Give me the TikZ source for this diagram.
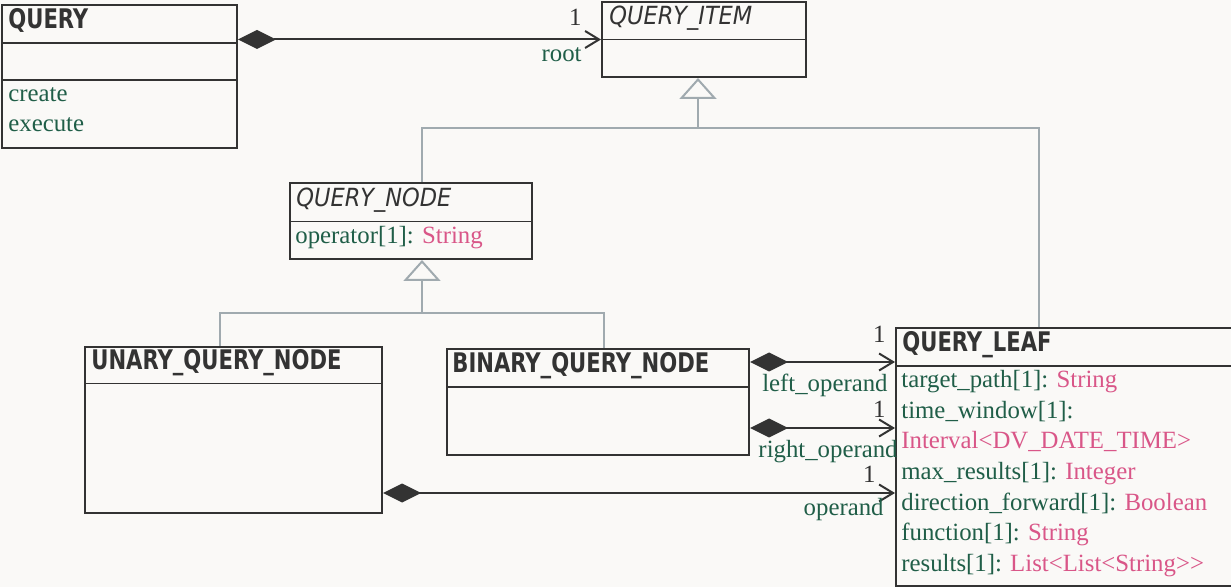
\documentclass[tikz,border=0pt]{standalone}
\usepackage{fontspec}
\setmainfont{Liberation Serif}
\newfontfamily\headfont[FakeStretch=0.87]{DejaVu Sans Condensed Bold}
\newfontfamily\abstractfont{DejaVu Sans Condensed Oblique}
\usetikzlibrary{arrows.meta}
\definecolor{umlink}{HTML}{333333}
\definecolor{umlgreen}{HTML}{205E48}
\definecolor{umlpink}{HTML}{D95688}
\definecolor{umlgray}{HTML}{A0AAAF}
\definecolor{paper}{HTML}{FAF9F7}
\newcommand{\ty}[1]{\textcolor{umlpink}{#1}}
\tikzset{
  classbox/.style={draw=umlink, line width=1pt, anchor=north west, inner sep=0pt},
  classname/.style={anchor=base west, inner sep=0pt, text=umlink, font=\headfont\fontsize{13.5}{16}\selectfont},
  abstractname/.style={anchor=base west, inner sep=0pt, text=umlink, font=\abstractfont\fontsize{12.5}{15}\selectfont},
  feature/.style={anchor=base west, inner sep=0pt, text=umlgreen, font=\fontsize{12.4}{15}\selectfont},
  role/.style={anchor=base east, inner sep=0pt, text=umlgreen, font=\fontsize{12.4}{15}\selectfont},
  mult/.style={anchor=base east, inner sep=0pt, text=umlink, font=\fontsize{12.4}{15}\selectfont},
  divider/.style={draw=umlink, line width=1pt},
  thindivider/.style={draw=umlink, line width=0.5pt},
  comp/.style={draw=umlink, line width=1pt, {Diamond[length=19pt,width=9.5pt]}-{Straight Barb[length=7pt,width=8.5pt]}},
  tree/.style={draw=umlgray, line width=1pt},
  inherit/.style={tree, -{Triangle[open,length=10.5pt,width=18.5pt]}}
}
\begin{document}
\begin{tikzpicture}[x=0.5pt, y=0.5pt]
  \fill[paper] (0,0) rectangle (1231,-587);
  \useasboundingbox (0,0) rectangle (1231,-587);

  % classes
  \node[classbox, minimum width=117.5pt, minimum height=71.5pt] (query) at (1,-4) {};
  \node[classname] (query-name) at (8,-29) {QUERY};
  \draw[divider] (query.west |- 0,-43) -- (query.east |- 0,-43);
  \draw[divider] (query.west |- 0,-80) -- (query.east |- 0,-80);
  \node[feature] (query-create) at (8,-102) {create};
  \node[feature] (query-execute) at (8,-132) {execute};

  \node[classbox, minimum width=102pt, minimum height=37.5pt] (item) at (601,-1) {};
  \node[abstractname] (item-name) at (609,-25) {QUERY\_ITEM};
  \draw[thindivider] (item.west |- 0,-40) -- (item.east |- 0,-40);

  \node[classbox, minimum width=121pt, minimum height=38pt] (qnode) at (289,-182) {};
  \node[abstractname] (qnode-name) at (296,-207) {QUERY\_NODE};
  \draw[thindivider] (qnode.west |- 0,-222) -- (qnode.east |- 0,-222);
  \node[feature] (qnode-op) at (295,-244) {operator[1]: \ty{String}};

  \node[classbox, minimum width=148.5pt, minimum height=83pt] (unary) at (84,-346) {};
  \node[classname] (unary-name) at (91,-370) {UNARY\_QUERY\_NODE};
  \draw[thindivider] (unary.west |- 0,-384) -- (unary.east |- 0,-384);

  \node[classbox, minimum width=151pt, minimum height=53pt] (binary) at (446,-348) {};
  \node[classname] (binary-name) at (452,-372) {BINARY\_QUERY\_NODE};
  \draw[divider] (binary.west |- 0,-387) -- (binary.east |- 0,-387);

  \node[classbox, minimum width=170pt, minimum height=129pt] (leaf) at (895,-327) {};
  \node[classname] (leaf-name) at (902,-352) {QUERY\_LEAF};
  \draw[divider] (leaf.west |- 0,-366) -- (leaf.east |- 0,-366);
  \foreach \attr [count=\i from 0] in {
      {target\_path[1]: \ty{String}},
      {time\_window[1]:},
      {\ty{Interval\textless DV\_DATE\_TIME\textgreater}},
      {max\_results[1]: \ty{Integer}},
      {direction\_forward[1]: \ty{Boolean}},
      {function[1]: \ty{String}},
      {results[1]: \ty{List\textless List\textless String\textgreater\kern0pt\textgreater}}}
    \node[feature] (leaf-attr\i) at (901,{-388-30.5*\i}) {\attr};

  % generalisation
  \coordinate (top-joint) at (698,-128);
  \coordinate (mid-joint) at (422,-313);
  \draw[tree] (leaf.north -| 1039,0) |- (top-joint);
  \draw[inherit] (qnode.north -| 422,0) |- (top-joint) -- (item.south -| top-joint);
  \draw[tree] (unary.north -| 220,0) |- (mid-joint);
  \draw[inherit] (binary.north -| 604,0) |- (mid-joint) -- (qnode.south -| mid-joint);

  % composition
  \draw[comp] (query.east |- item.west) -- (item.west);
  \node[mult] (root-mult) at (582,-26) {1};
  \node[role] (root-role) at (582,-62) {root};

  \draw[comp] (binary.east |- 0,-362) -- (leaf.west |- 0,-362);
  \node[mult] (left-mult) at (886,-343) {1};
  \node[role] (left-role) at (888,-392) {left\_operand};

  \draw[comp] (binary.east |- 0,-428) -- (leaf.west |- 0,-428);
  \node[mult] (right-mult) at (886,-417) {1};
  \node[role] (right-role) at (898,-458) {right\_operand};

  \draw[comp] (unary.east |- 0,-493) -- (leaf.west |- 0,-493);
  \node[mult] (op-mult) at (876,-482) {1};
  \node[role] (op-role) at (884,-515) {operand};
\end{tikzpicture}
\end{document}
